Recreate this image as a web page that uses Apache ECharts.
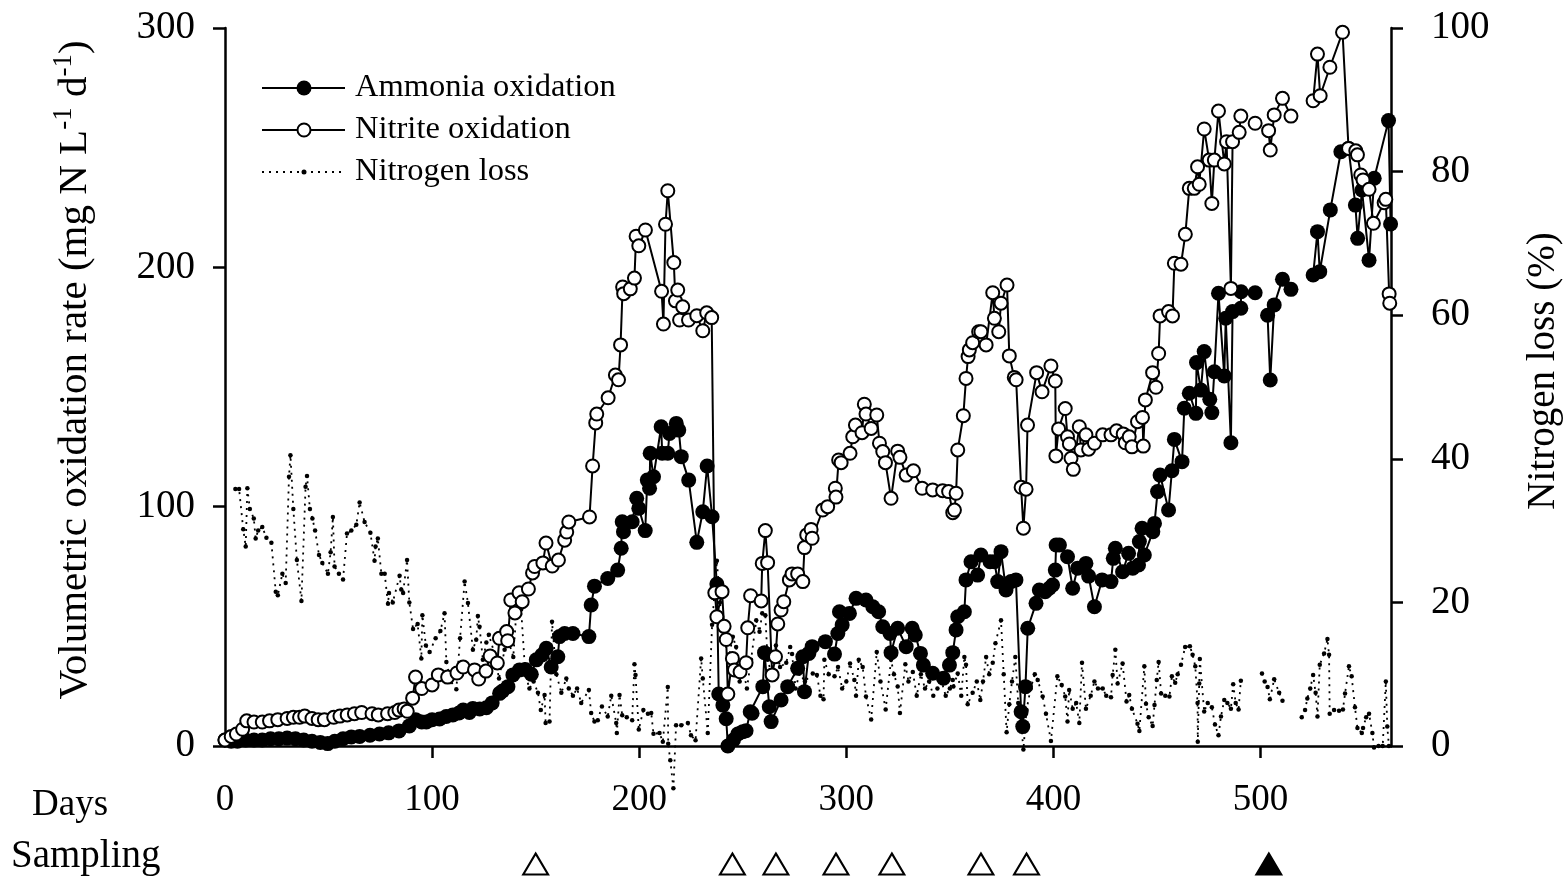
<!DOCTYPE html>
<html>
<head>
<meta charset="utf-8">
<script src="https://cdn.jsdelivr.net/npm/echarts@6/dist/echarts.min.js"></script>
<style>html,body{margin:0;padding:0;background:#fff;}#c{width:1564px;height:882px;}</style>
</head>
<body>
<div id="c"></div>
<script>
// ---- data (day, value) ----
const ammonia = [[0,2.5],[3,2],[6,2],[10,2.5],[14,2.5],[18,2.5],[22,3],[26,3],[30,3.3],[34,3],[38,2.5],[42,2],[46,1.5],[49.6,1],[53,2],[57,3],[61,3.8],[65,4],[70,4.5],[74.6,5],[79,5.5],[84,6.3],[89,8.4],[92,11],[95,10],[97.2,10],[100,11],[103.6,11.3],[106.8,12.3],[110,13],[113,13.8],[115,15],[118,14],[119.7,15.7],[123,15.5],[126.2,16],[129,18],[132.6,22],[134,23],[136.6,24.8],[139,29.7],[142.2,31.8],[145,32],[147.9,30],[150.3,36],[153,38],[155.1,40.8],[157.5,33],[160.7,37.3],[161.5,45.7],[164,47],[168,47],[175.7,45.7],[176.8,58.9],[178.4,66.8],[184.8,70],[189.6,73.5],[191.3,82.6],[191.8,93.7],[192.4,89.5],[196.6,93.7],[198.8,103.5],[199.8,99.3],[202.9,90],[203.9,111.1],[205,107.7],[205.3,122.3],[206.9,112.5],[210.6,133.4],[211.1,122.3],[213.8,122.3],[214.6,130.6],[217.9,134.8],[219.1,132],[220.3,120.9],[223.9,111.1],[227.8,85.1],[230.7,97.9],[232.8,117],[235.2,95.8],[237.5,67.7],[238.4,21.7],[240.4,17.1],[242,11.4],[242.8,0],[245.5,2.5],[247.6,5],[250,6],[251.6,6.4],[253.6,14.3],[254.5,13.7],[259.7,24.8],[260.5,39],[262.8,16.4],[263.7,10.2],[268.5,19.2],[271.7,24.8],[276.5,32.5],[279,37.3],[279.8,22.7],[281.9,38.7],[283.5,41.5],[289.9,43.6],[294.3,38.4],[295.9,47],[296.7,56.1],[298,50.6],[301.5,55.4],[304.7,61.7],[309.5,61],[312.8,58.2],[315.6,56.1],[317.6,49.8],[321.1,47],[321.6,39],[324.8,49.2],[328.9,41.5],[331.8,49.2],[333.3,46.4],[335.8,38.7],[337.2,33.8],[341.7,30.4],[346.9,28.3],[349.8,33.8],[351.4,39],[353,48.5],[353.8,54],[357,56.1],[357.8,69.4],[360.2,77],[363.4,71.4],[365,79.8],[369.4,77],[371.5,77],[373.1,68.7],[374.7,81.2],[377.1,65.2],[379.5,68.7],[381.9,69.4],[384.4,14.3],[385.2,8.1],[386.5,24.8],[387.6,49.2],[391.6,59.6],[393.2,65.2],[396,64.5],[398,65.9],[399.6,67.3],[400.9,73.5],[401.3,84],[402.9,84],[406.8,79.1],[409.3,65.9],[411.7,74.3],[415.7,76.3],[417,71],[419.8,58.2],[423.5,69.4],[427.8,68.7],[428.9,78.4],[429.9,82.6],[433.4,72.8],[436.3,80.5],[438.3,74.3],[441.1,75.6],[441.5,85.4],[442.8,91],[443.9,79.8],[448,89.5],[448.8,93],[450.3,106.3],[451.5,113.2],[455.6,98.6],[457.2,115],[458.4,128.1],[462.1,118.8],[463.2,141.1],[465.6,147.4],[468.8,139],[469.1,160.2],[471.2,148.7],[472.8,164.8],[475.5,144.9],[476.5,139.3],[477.7,156.4],[479.7,189.2],[482.5,154.6],[483.2,178.7],[485.7,126.7],[486.5,181.5],[490.5,182.9],[490.6,189.8],[494,null],[497.4,189.4],[500,null],[503.4,180],[504.7,152.9],[506.6,184.3],[510.6,195],[514.7,190.8],[520,null],[525.4,196.8],[527.5,214.9],[528.6,198.2],[533.7,224],[538.8,248.3],[542.5,249.7],[545.8,226],[546.9,212.1],[549,232.3],[552.4,203],[554.9,237.2],[561.8,261.3],[562.8,218.1]];

const nitrite = [[0,2.5],[3,4],[5.5,5],[8.5,7],[10.5,10.5],[14,10],[18,10],[21.5,10.5],[25.5,11],[30,11.5],[33,12],[36,12],[38.5,12.5],[42,11.5],[45,11],[48,11],[52.5,12],[55.5,12.5],[59,13],[62.5,13.5],[66,14],[71,13.5],[74,13],[78.5,13.5],[82,14],[84,15],[86.5,15.5],[88,14.5],[90.6,20],[92,28.8],[95,24],[100,25.5],[103,29.7],[107.5,28.8],[112,30.5],[115,33],[120.5,31.8],[122.5,28],[126,31.3],[128,37.6],[131.5,34.7],[132.5,45],[136,47.8],[136.5,44],[138,61],[140,55.6],[142,64],[143.5,60.3],[146.5,65.6],[148.5,72.3],[149.5,75],[153.5,76.5],[155,84.8],[158,75.2],[161,77.7],[164,86],[165,89.4],[166,93.6],[176,95.7],[177.5,117],[179,135],[179.5,138.7],[185,145.5],[188.5,155],[190,153],[191,167.6],[192,191.8],[192.5,189],[195.7,191],[197.7,195.5],[198.5,213],[199.8,209],[203,215.6],[210.8,190],[211.7,176.3],[212.7,218],[213.8,232],[216.7,202],[217.5,186],[218.6,190.5],[219.5,178],[221,183.5],[223.8,178],[227.8,179.8],[230.7,173.5],[232.6,181],[235,179],[236.5,64],[237.5,54],[240,64.5],[241,50],[242,44.5],[242.8,21.7],[245,36.6],[246,31.8],[248.7,31],[251.6,34.8],[252.4,49.4],[253.8,62.8],[258.9,60.6],[259.4,76.3],[260.9,90],[262,76.6],[264.2,29.7],[265.8,37.3],[266.9,51],[268.5,56.8],[269.8,60.3],[272.5,69.4],[273.8,71.9],[276.5,71.9],[279,68.7],[279.8,82.9],[280.9,88.2],[283,90.5],[283.5,86.8],[288.6,98.6],[291,100],[294.7,107.7],[295,104],[296.3,119.5],[297.5,118.4],[301.8,122.3],[303.1,129.2],[304.4,134.1],[307.6,130.9],[308.7,142.8],[309.5,138.7],[312,132.7],[314.7,138.3],[316,126.5],[317.6,123],[318.9,118.4],[321.6,103.5],[324.8,123.2],[325.9,120.6],[328.9,113.2],[332.4,115],[336.6,107.7],[341.7,107],[346.5,106.7],[349.4,106.3],[351.4,97.5],[352.2,98.6],[353,105.6],[353.8,123.7],[356.5,138],[357.8,153.6],[358.8,162.7],[359.4,165.5],[361,168.5],[363.9,173.1],[365,173.1],[367.5,167.6],[370.7,189.4],[371.5,178.7],[373.6,173.1],[374.7,185],[377.6,192.6],[378.7,163],[381.1,154],[382,153],[384.4,108.1],[385.5,91],[386.8,107.3],[387.5,134.1],[391.9,156],[394.5,148],[398.8,158.8],[400.9,152.5],[401.2,121.2],[402.5,132.5],[405.7,141],[406.8,129.2],[407.7,126.2],[408.5,120.2],[409.6,115.6],[412.5,133.4],[413.3,123.7],[415.7,130],[417,124],[419.8,126.5],[423.8,130],[427.8,130],[430.5,131.7],[433.7,130.4],[434.7,126.7],[436.6,129.2],[437.9,125],[440.6,135.5],[443,137.3],[443.4,125.3],[444.4,144.6],[447.9,156],[449.5,149.9],[450.8,164],[451.5,179.7],[455.6,181.5],[457.5,179.7],[458.4,201.7],[461.6,201.3],[463.7,213.8],[465.6,233],[468,233],[469.6,242],[470.4,234.7],[472.8,257.8],[475.2,244.8],[476.5,226.7],[477.7,244.8],[479.7,265.3],[482.5,243.2],[483.6,252.5],[485.7,191.2],[486.5,252.5],[489.7,256.4],[490.5,263.2],[494,null],[497.4,260.2],[500,null],[503.9,257.1],[504.7,249],[506.6,263.7],[510.6,270.6],[514.7,263.2],[520,null],[525.4,269.6],[527.5,289.1],[528.8,271.7],[533.5,283.6],[539.6,298.2],[542.5,249.7],[546,248.7],[546.8,247],[548.4,238.6],[549.5,236.5],[552.4,232.6],[554.5,218.4],[559.7,227],[560.5,228.4],[562.1,188.9],[562.4,185]];

const nitrogenLoss = [[5,35.8],[6.8,35.8],[8.8,30.2],[10,27.8],[10.8,35.9],[12,33],[13.9,31.7],[14.8,28.9],[16,30],[18,30.5],[20,29],[22.4,28.3],[24.5,21.5],[25.5,21],[27.7,24],[29.3,22.7],[30.9,37.5],[31.6,40.5],[33,33],[34.7,25.9],[36.9,20.2],[38.9,36.1],[39.6,37.6],[41,33],[42.2,31.7],[43.5,30],[45.4,26.6],[47,25.5],[49.7,24],[51,27],[52.1,31.9],[52.9,25],[55,24],[57,23.2],[58.9,29.6],[61,30],[63.4,30.8],[65,33.9],[67.4,31.2],[70.2,29.7],[72.2,25.8],[72.7,27.8],[73.8,28.9],[75.5,24],[77.1,24],[78.7,19.8],[79.2,21.3],[81,20],[84.3,23.7],[85.1,21.8],[86,21.3],[87.9,25.9],[89,20],[90.8,16.3],[93,17],[94.8,12.2],[95.3,18.2],[97,14],[98.8,13.1],[101.7,15],[104,16],[106,18.5],[106.9,11.7],[109,9],[111.7,7.9],[113.5,15],[115.7,22.9],[117.3,19.9],[119.7,13.4],[121.3,14.8],[122.1,18.1],[122.9,16.6],[124.5,12],[126.2,14.4],[127.4,15.5],[130,13],[132.3,9.4],[135,13.4],[137,14.5],[139.2,12.4],[141,20],[143,19],[145,10],[147,8],[149,9],[151.1,7.4],[152.5,5],[154.3,7.1],[154.8,3.2],[156.7,3.4],[157.9,17.3],[160,10],[162.4,7.4],[164.8,9.4],[166,8],[168,7],[170,8],[172,6],[175.7,7.8],[176.8,4.6],[178.4,3.4],[180,3.6],[182,5.5],[184.8,4.1],[186.5,7],[188.9,3.2],[189.2,1.8],[190.5,7.1],[191.8,4.3],[194,4],[196.6,3.6],[197.7,11.4],[198.2,9.9],[199.8,2.3],[202,5],[204.2,4.5],[205.8,4.6],[206.9,1.7],[209.8,1.8],[211.4,0.6],[213.8,8.2],[214,0.3],[215,-2],[216.5,-5.9],[217.8,2.9],[220.3,2.9],[223.5,3.2],[225,1.5],[227.2,0.8],[229.9,12.2],[230.7,9.4],[233.1,1.8],[235.2,16.9],[237.5,25.8],[239,20],[241.2,14.8],[243,12],[245.2,15.2],[246.8,13.8],[248.5,9],[250,11],[252,8],[254,12],[256.5,17.5],[258.1,15.9],[259.4,18.5],[260.9,18.2],[262,12],[264,10],[266,14],[268,11],[271,11.6],[272.9,13.8],[273.8,12.8],[275.5,8],[277.4,10.1],[280,9],[283.8,10.1],[285.8,9.9],[287.5,7],[289,6.5],[289.4,12],[291.5,10],[294.3,9.7],[296,11],[298,8],[300,9],[301.8,11.5],[303.9,9.2],[304.7,7],[306,12],[307.9,11],[309.5,6.9],[312,3.7],[314.7,13.1],[316.5,9],[319,5.1],[321.6,12],[323,10],[324.8,8.3],[325.9,4.6],[328.5,11.4],[330,9],[332.1,10.3],[334,7],[336,10],[338,8],[340,9],[342,7],[344,8],[346,9],[348,7],[350,8],[351.4,9.2],[351.7,8.3],[353.8,10.1],[355.5,7],[357,12.4],[357.8,11.3],[358.6,5.8],[361,7.4],[363,9],[364.7,6.4],[366,9],[367.5,12.4],[369,10],[370.7,11.6],[372,14.3],[374.7,17.5],[376,10],[377.4,1.9],[378.7,5.8],[380,9],[381.6,12.4],[383,6],[384.5,3],[385.5,-0.5],[387,5],[389,8],[391,10],[392.4,9.2],[394.8,6.9],[396.4,4.5],[398.8,0.7],[401.9,9.7],[404,8.5],[405.7,6.9],[406.8,3.4],[407.6,7.8],[409.3,5.2],[411,6],[412.5,3.2],[413.8,11.6],[415.7,5.2],[418,7],[419.8,9],[421.5,8],[423.8,8],[425.5,7],[427.8,6.8],[428.6,9.9],[429.9,13.4],[431,8.7],[433.4,11.5],[435.3,6.2],[436.6,7.1],[437.9,5.2],[440.6,3.1],[441.5,2.1],[443.9,11.1],[444.7,5.9],[446,4],[447.9,2.8],[448.8,5.7],[449.9,9.2],[450.8,11.7],[452,7.3],[454,7],[456,6.9],[457.2,9.7],[458.8,8.8],[460,10],[461.6,11.3],[463.6,13.8],[465.9,13.9],[467.2,12.7],[468.5,11.1],[469.6,6],[469.7,0.6],[470.4,8.7],[470.7,12.1],[472.8,4.8],[474.5,6],[476.5,5.4],[478,3],[479.7,1.5],[480.9,4.1],[482.5,6.4],[484,6],[485.7,5.2],[486.8,8.6],[488,6],[489.4,5.1],[490.5,9.1],[495,null],[500.7,10.1],[502,9],[503.4,8.2],[504.5,6.5],[506.6,9.3],[509,7.4],[510.6,6.3],[515,null],[519.9,4],[521.5,5],[522.6,6.6],[524,8],[525.4,9.9],[526.6,7.4],[527.5,4.1],[528.6,11.3],[530.7,12.9],[532.3,14.9],[533.1,12.7],[533.4,4.5],[535.5,5],[537.9,4.9],[539.8,5.1],[540.8,7.3],[542.7,11.1],[544,9.7],[545.6,5.4],[546.8,2.5],[548.9,1.8],[549.5,2.5],[551,4],[552.4,4.5],[554,1.8],[554.8,-0.2],[557,0],[559,0],[560.5,9],[561.2,2.7],[562,0]];

const samplingOpen = [150, 245, 266, 295, 322, 365, 387];
const samplingFilled = [504];

const xLabelValues = [0, 100, 200, 300, 400, 500];
const xTickValues = [100, 200, 300, 400, 500];

// ---- chart ----
const FONT = 'Liberation Serif, Times New Roman, serif';
const chart = echarts.init(document.getElementById('c'), null, {renderer: 'canvas'});
const GL = 225, GR = 173, GT = 28, GB = 136;

const option = {
  animation: false,
  backgroundColor: '#fff',
  textStyle: {fontFamily: FONT, color: '#000'},
  grid: [
    {left: GL, right: GR, top: GT, bottom: GB, containLabel: false, outerBoundsMode: 'none'},
    {left: GL, right: GR, top: 852, height: 24, containLabel: false, outerBoundsMode: 'none'}
  ],
  xAxis: [
    {
      type: 'value', gridIndex: 0, min: 0, max: 563,
      axisLine: {lineStyle: {color: '#000', width: 2.5}},
      axisTick: {show: true, inside: false, length: 12, lineStyle: {width: 2.5, color: '#000'},
                 customValues: xTickValues},
      axisLabel: {fontFamily: FONT, fontSize: 37, color: '#000', margin: 36,
                  customValues: xLabelValues},
      splitLine: {show: false}
    },
    {type: 'value', gridIndex: 1, min: 0, max: 563, show: false}
  ],
  yAxis: [
    {
      type: 'value', gridIndex: 0, min: 0, max: 300, interval: 100, position: 'left',
      name: '{t|Volumetric oxidation rate (mg N L}{s|-1}{t| d}{s|-1}{t|)}',
      nameLocation: 'middle', nameGap: 124, nameRotate: 90,
      nameTextStyle: {padding: [0, 0, 0, 34], rich: {
        t: {fontFamily: FONT, fontSize: 41, color: '#000', lineHeight: 48},
        s: {fontFamily: FONT, fontSize: 27, color: '#000', padding: [0, 0, 24, 0]}
      }},
      axisLine: {show: true, lineStyle: {color: '#000', width: 2.5}},
      axisTick: {show: true, inside: false, length: 12, lineStyle: {width: 2.5, color: '#000'}},
      axisLabel: {fontFamily: FONT, fontSize: 39, color: '#000', margin: 30},
      splitLine: {show: false}
    },
    {
      type: 'value', gridIndex: 0, min: 0, max: 100, interval: 20, position: 'right',
      name: 'Nitrogen loss (%)', nameLocation: 'middle', nameGap: 133, nameRotate: 90,
      nameTextStyle: {fontFamily: FONT, fontSize: 39, color: '#000', padding: [0, 0, 0, 32]},
      axisLine: {show: true, lineStyle: {color: '#000', width: 2.5}},
      axisTick: {show: true, inside: false, length: 12, lineStyle: {width: 2.5, color: '#000'}},
      axisLabel: {fontFamily: FONT, fontSize: 39, color: '#000', margin: 40},
      splitLine: {show: false}
    },
    {type: 'value', gridIndex: 1, min: 0, max: 1, show: false}
  ],
  series: [
    {
      name: 'Nitrogen loss', type: 'line', xAxisIndex: 0, yAxisIndex: 1,
      data: nitrogenLoss, clip: false, connectNulls: false,
      symbol: 'circle', symbolSize: 4.5,
      lineStyle: {color: '#000', width: 1.8, type: [2, 5]},
      itemStyle: {color: '#000'}, z: 2
    },
    {
      name: 'Ammonia oxidation', type: 'line', xAxisIndex: 0, yAxisIndex: 0,
      data: ammonia, connectNulls: false,
      symbol: 'circle', symbolSize: 15,
      lineStyle: {color: '#000', width: 2},
      itemStyle: {color: '#000', borderColor: '#000', borderWidth: 0}, z: 3
    },
    {
      name: 'Nitrite oxidation', type: 'line', xAxisIndex: 0, yAxisIndex: 0,
      data: nitrite, connectNulls: false,
      symbol: 'circle', symbolSize: 13,
      lineStyle: {color: '#000', width: 2},
      itemStyle: {color: '#fff', borderColor: '#000', borderWidth: 2}, z: 4
    },
    {
      name: 'Sampling', type: 'scatter', xAxisIndex: 1, yAxisIndex: 2,
      data: samplingOpen.map(d => [d, 0.5]),
      symbol: 'triangle', symbolSize: [25, 21],
      itemStyle: {color: '#fff', borderColor: '#000', borderWidth: 2, opacity: 1}
    },
    {
      name: 'Sampling (filled)', type: 'scatter', xAxisIndex: 1, yAxisIndex: 2,
      data: samplingFilled.map(d => [d, 0.5]),
      symbol: 'triangle', symbolSize: [25, 21],
      itemStyle: {color: '#000', borderColor: '#000', borderWidth: 2, opacity: 1}
    }
  ],
  graphic: [
    // legend
    {type: 'line', shape: {x1: 262, y1: 88, x2: 345, y2: 88}, style: {stroke: '#000', lineWidth: 2}},
    {type: 'circle', shape: {cx: 304, cy: 88, r: 7.5}, style: {fill: '#000'}},
    {type: 'text', left: 355, top: 71, style: {text: 'Ammonia oxidation', font: '32.5px ' + FONT, fill: '#000'}},
    {type: 'line', shape: {x1: 262, y1: 130, x2: 345, y2: 130}, style: {stroke: '#000', lineWidth: 2}},
    {type: 'circle', shape: {cx: 304, cy: 130, r: 6.5}, style: {fill: '#fff', stroke: '#000', lineWidth: 2}},
    {type: 'text', left: 355, top: 113, style: {text: 'Nitrite oxidation', font: '32.5px ' + FONT, fill: '#000'}},
    {type: 'line', shape: {x1: 262, y1: 172, x2: 345, y2: 172}, style: {stroke: '#000', lineWidth: 1.8, lineDash: [2, 5]}},
    {type: 'circle', shape: {cx: 304, cy: 172, r: 2.5}, style: {fill: '#000'}},
    {type: 'text', left: 355, top: 155, style: {text: 'Nitrogen loss', font: '32.5px ' + FONT, fill: '#000'}},
    // row labels
    {type: 'text', left: 32, top: 787, style: {text: 'Days', font: '37px ' + FONT, fill: '#000'}},
    {type: 'text', left: 11, top: 837, style: {text: 'Sampling', font: '39px ' + FONT, fill: '#000'}}
  ]
};
chart.setOption(option);
</script>
</body>
</html>
